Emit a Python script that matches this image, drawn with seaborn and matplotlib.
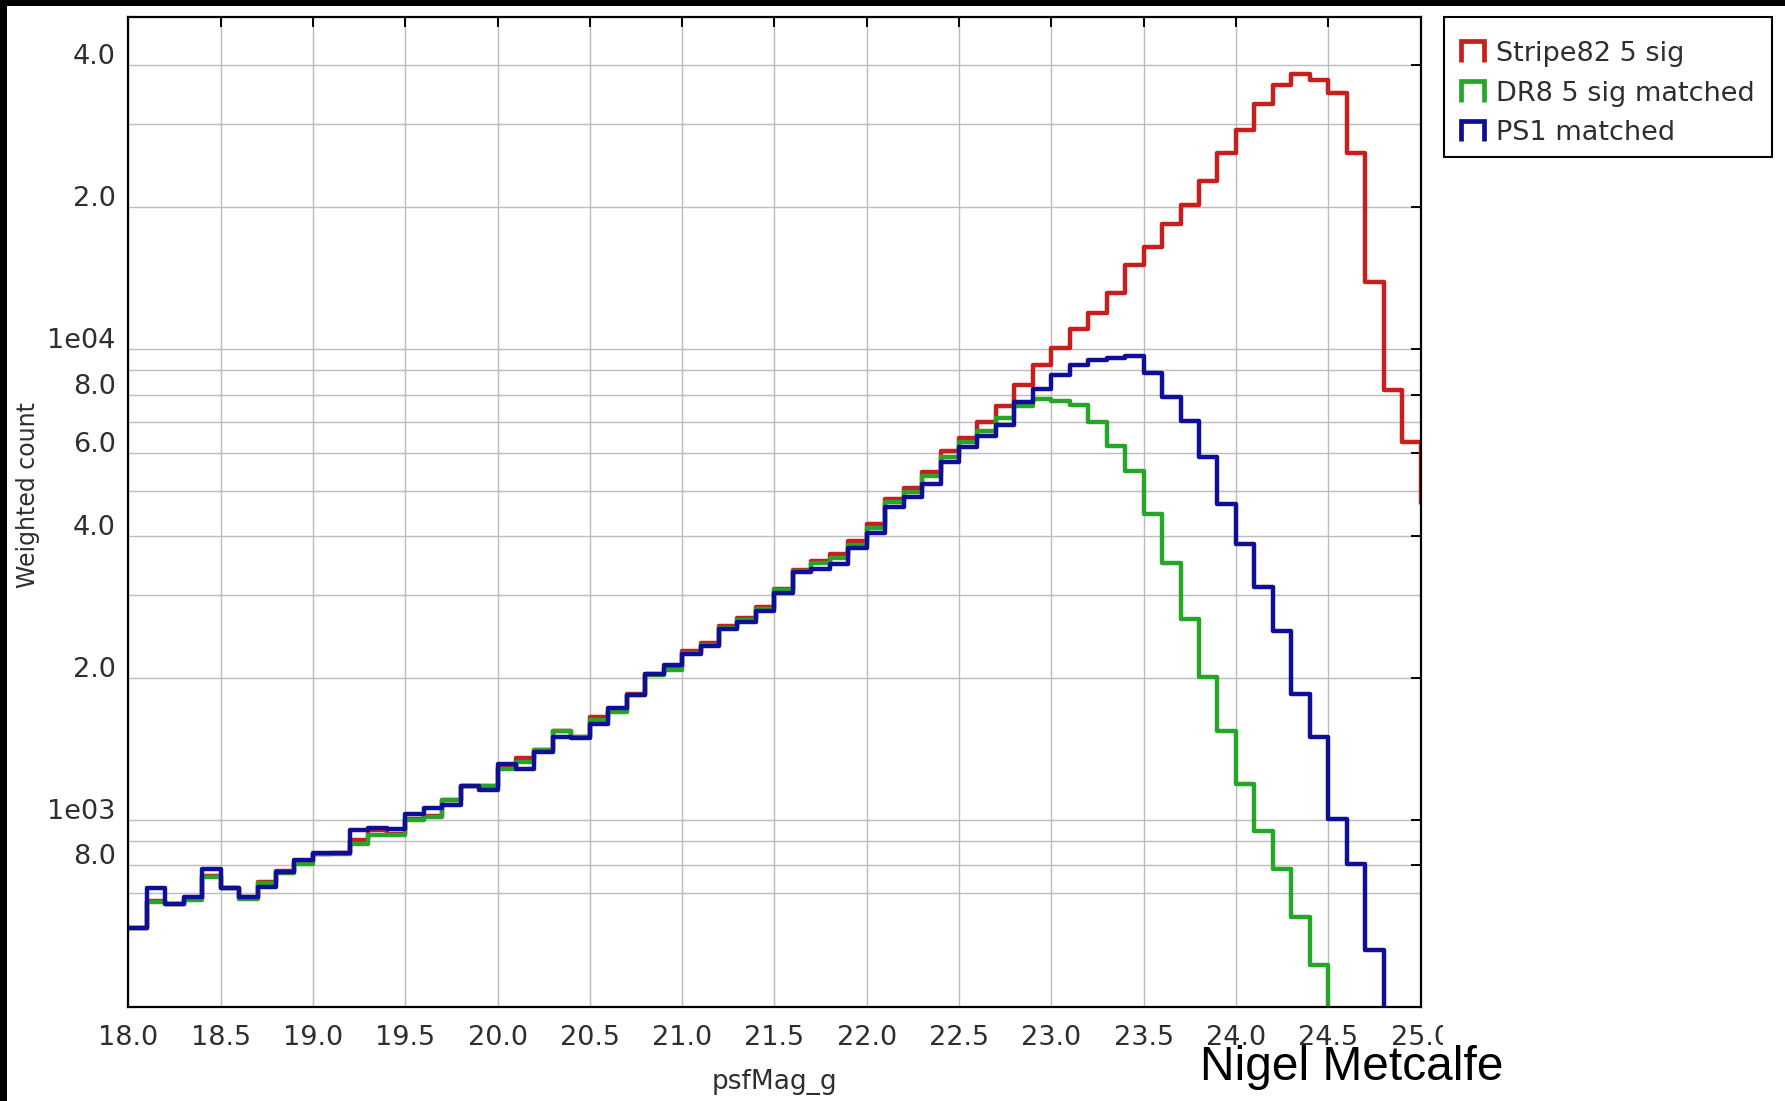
import numpy as np
import pandas as pd
import matplotlib
matplotlib.use("Agg")
import matplotlib.pyplot as plt
import seaborn as sns
from matplotlib.legend_handler import HandlerBase
from matplotlib.lines import Line2D
from matplotlib.patches import Rectangle
from matplotlib.ticker import FixedLocator, FixedFormatter, NullFormatter
from matplotlib.transforms import ScaledTranslation, Bbox, TransformedBbox

# ---------------- data ----------------
bin_start = 18.0
bin_width = 0.1

stripe82 = [590, 672, 664, 680, 760, 717, 684, 738, 778, 815,
            848, 850, 905, 950, 935, 1005, 1020, 1104, 1180, 1178,
            1290, 1354, 1404, 1547, 1502, 1651, 1700, 1850, 2045, 2100,
            2279, 2370, 2580, 2680, 2830, 3089, 3390, 3540, 3664, 3910,
            4254, 4793, 5058, 5483, 6065, 6472, 6996, 7550, 8368, 9259,
            10050, 11035, 11910, 13170, 15080, 16430, 18420, 20210, 22750, 26000,
            29130, 33070, 36280, 38280, 37290, 34940, 26080, 13900, 8168, 6346,
            4713]
dr8 = [590, 670, 662, 676, 757, 715, 680, 735, 770, 807,
       845, 848, 890, 927, 927, 1001, 1014, 1104, 1178, 1178,
       1284, 1325, 1404, 1547, 1500, 1630, 1692, 1845, 2030, 2082,
       2260, 2350, 2560, 2660, 2800, 3070, 3380, 3517, 3600, 3840,
       4170, 4720, 4960, 5360, 5900, 6330, 6700, 7130, 7553, 7845,
       7765, 7589, 6998, 6216, 5502, 4450, 3506, 2675, 2014, 1547,
       1193, 947, 785, 622, 492, 330]
ps1 = [590, 715, 662, 686, 786, 715, 686, 720, 775, 821,
       851, 851, 950, 960, 958, 1031, 1061, 1073, 1178, 1159,
       1311, 1284, 1392, 1502, 1495, 1594, 1729, 1845, 2041, 2136,
       2250, 2343, 2542, 2637, 2770, 3038, 3366, 3405, 3500, 3784,
       4072, 4615, 4846, 5171, 5757, 6185, 6525, 6900, 7716, 8235,
       8800, 9259, 9450, 9561, 9673, 8886, 7915, 7046, 5900, 4690,
       3846, 3118, 2512, 1851, 1498, 1006, 805, 529, 330]

series_names = ["Stripe82 5 sig", "DR8 5 sig matched", "PS1 matched"]
series_values = [stripe82, dr8, ps1]
series_colors = ["#c81e1e", "#26a626", "#0e0e98"]

x_ticks = [18.0, 18.5, 19.0, 19.5, 20.0, 20.5, 21.0, 21.5, 22.0, 22.5,
           23.0, 23.5, 24.0, 24.5, 25.0]
x_tick_labels = ["18.0", "18.5", "19.0", "19.5", "20.0", "20.5", "21.0", "21.5",
                 "22.0", "22.5", "23.0", "23.5", "24.0", "24.5", "25.0"]
y_ticks = [800, 1000, 2000, 4000, 6000, 8000, 10000, 20000, 40000]
y_tick_labels = ["8.0", "1e03", "2.0", "4.0", "6.0", "8.0", "1e04", "2.0", "4.0"]
y_minor_grid = [700, 900, 3000, 5000, 7000, 9000, 30000]

# ---------------- figure ----------------
W, H = 1785, 1101
sns.set_theme(style="white")
plt.rcParams["font.family"] = ["DejaVu Sans"]
fig = plt.figure(figsize=(W / 100, H / 100), dpi=100)
fig.patch.set_facecolor("white")

ax_l, ax_r, ax_t, ax_b = 128.3, 1420.5, 17.3, 1006.7
ax = fig.add_axes([ax_l / W, 1 - ax_b / H, (ax_r - ax_l) / W, (ax_b - ax_t) / H])
ax.set_facecolor("white")

handles = []
for name, vals, col in zip(series_names, series_values, series_colors):
    n = len(vals)
    edges = (bin_start + bin_width * np.arange(n + 1)).tolist()
    centers = [e + bin_width / 2 for e in edges[:-1]]
    df = pd.DataFrame({"psfMag_g": centers, "weight": vals})
    sns.histplot(data=df, x="psfMag_g", weights="weight", bins=edges,
                 element="step", fill=False, color=col, linewidth=3.2, ax=ax)
    handles.append(Line2D([], [], color=col, lw=3.2))

ax.set_yscale("log")
ax.set_xlim(18.0, 25.0)
ax.set_ylim(401, 50600)

ax.xaxis.set_major_locator(FixedLocator(x_ticks))
ax.xaxis.set_major_formatter(FixedFormatter(x_tick_labels))
ax.xaxis.set_minor_locator(FixedLocator([]))
ax.yaxis.set_major_locator(FixedLocator(y_ticks))
ax.yaxis.set_major_formatter(FixedFormatter(y_tick_labels))
ax.yaxis.set_minor_locator(FixedLocator(y_minor_grid))
ax.yaxis.set_minor_formatter(NullFormatter())

ax.set_axisbelow(True)
grid_kw = dict(color="#bcbcbc", linewidth=1.0)
ax.grid(True, which="major", axis="both", **grid_kw)
ax.grid(True, which="minor", axis="y", **grid_kw)

ax.tick_params(axis="both", which="major", direction="in", length=7, width=1.4,
               color="black", top=True, right=True, labelsize=19.5,
               labelcolor="#2e2e2e")
ax.tick_params(axis="x", which="major", pad=13.5)
ax.tick_params(axis="y", which="major", pad=9)
ax.tick_params(axis="both", which="minor", length=0)

for sp in ax.spines.values():
    sp.set_color("black")
    sp.set_linewidth(1.6)

ax.set_xlabel("psfMag_g", fontsize=19, color="#2e2e2e")
ax.xaxis.set_label_coords(0.5, (ax_b - 1069) / (ax_b - ax_t))
ax.set_ylabel("Weighted count", fontsize=17, color="#2e2e2e")
ax.yaxis.set_label_coords((40.5 - ax_l) / (ax_r - ax_l), 1 - (494.7 - ax_t) / (ax_b - ax_t))


class StepHandler(HandlerBase):
    def create_artists(self, legend, orig_handle, xdescent, ydescent,
                       width, height, fontsize, trans):
        x0 = -xdescent
        x1 = x0 + width
        y0 = -ydescent - 0.05 * height
        y1 = y0 + 1.1 * height
        line = Line2D([x0, x0, x1, x1], [y0, y1, y1, y0],
                      color=orig_handle.get_color(), lw=3.4,
                      solid_joinstyle="miter", solid_capstyle="butt")
        line.set_transform(trans)
        return [line]


leg = fig.legend(handles, series_names, handler_map={Line2D: StepHandler()},
                 loc="upper left", bbox_to_anchor=(1444 / W, 1 - 17.3 / H),
                 bbox_transform=fig.transFigure, borderaxespad=0,
                 frameon=True, fancybox=False, edgecolor="black", framealpha=1,
                 fontsize=19.5, handlelength=0.83, handleheight=0.7,
                 handletextpad=0.45, borderpad=0.63, labelspacing=0.5)
leg.get_frame().set_linewidth(1.5)
for t in leg.get_texts():
    t.set_color("#2e2e2e")

fig.text(1200 / W, 1 - 1080 / H, "Nigel Metcalfe", fontsize=34.5,
         family=["Liberation Sans", "DejaVu Sans"], color="black",
         ha="left", va="baseline")

# black screenshot borders
fig.patches.append(Rectangle((0, 1 - 6 / H), 1, 6 / H, transform=fig.transFigure,
                             facecolor="black", edgecolor="none", zorder=10))
fig.patches.append(Rectangle((0, 0), 7 / W, 1, transform=fig.transFigure,
                             facecolor="black", edgecolor="none", zorder=10))

fig.canvas.draw()
shift = ScaledTranslation(0, 11 / 100, fig.dpi_scale_trans)
for lab in ax.get_yticklabels():
    lab.set_transform(lab.get_transform() + shift)
last = ax.get_xticklabels()[-1]
last.set_clip_box(TransformedBbox(Bbox([[0, 0], [1443 / W, 1]]), fig.transFigure))
last.set_clip_on(True)

# nudge legend contents slightly downward inside the frame, as in the reference
down = ScaledTranslation(0, -7 / 100, fig.dpi_scale_trans)
for t in leg.get_texts():
    t.set_transform(t.get_transform() + down)
for hb in leg.findobj(Line2D):
    if hb.get_xydata().shape[0] == 4:
        hb.set_transform(hb.get_transform() + down)

fig.savefig("out.png", dpi=100, facecolor="white")
